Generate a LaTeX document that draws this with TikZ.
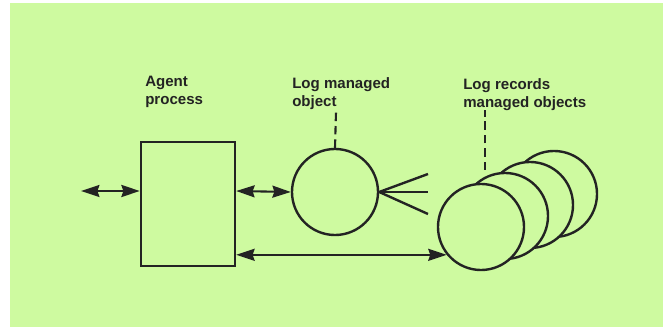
\documentclass[tikz,border=0pt]{standalone}
\usepackage{fontspec}
\setmainfont{Liberation Sans}
\usetikzlibrary{arrows.meta}

\begin{document}
\begin{tikzpicture}[x=0.025cm, y=-0.025cm,
	boxlabel/.style={anchor=north west, inner sep=0pt, align=left, font=\fontsize{10.7}{13}\selectfont\bfseries, text=inkgray},
	agentbox/.style={draw=inkgray, line width=1.7pt, minimum width=2.35cm, minimum height=3.1cm, inner sep=0pt},
	logcircle/.style={draw=inkgray, circle, line width=1.7pt, minimum size=2.15cm, inner sep=0pt, fill=bggreen},
	link/.style={draw=inkgray, line width=1.5pt, {Stealth[length=4.6mm,width=3mm,inset=0.5mm]}-{Stealth[length=4.6mm,width=3mm,inset=0.5mm]}},
	pointer/.style={draw=inkgray, line width=1.5pt, dash pattern=on 6pt off 3.5pt},
	feed/.style={draw=inkgray, line width=1.7pt}
	]
	\definecolor{bggreen}{RGB}{206, 250, 160}
	\definecolor{inkgray}{RGB}{35, 35, 35}

	% page and background
	\useasboundingbox (0,0) rectangle (663,327);
	\fill [bggreen] (10,3) rectangle (663,327);

	% agent process
	\node [agentbox] (agent) at (188,204) {};
	\node [boxlabel] (agentlabel) at (145,76) {Agent\\process};

	% log managed object
	\node [logcircle] (logobj) at (335,192) {};
	\node [boxlabel] (loglabel) at (292,77) {Log managed\\object};
	\coordinate (logtop) at (336,112);
	\draw [pointer] (logobj.north) -- (logtop);
	\coordinate (in1) at (428,174);
	\coordinate (in2) at (428,192);
	\coordinate (in3) at (428,214);
	\draw [feed] (logobj.east) -- (in1);
	\draw [feed] (logobj.east) -- (in2);
	\draw [feed] (logobj.east) -- (in3);

	% log records, back to front
	\node [logcircle] (rec4) at (554,194) {};
	\node [logcircle] (rec3) at (530,205) {};
	\node [logcircle] (rec2) at (505,216) {};
	\node [logcircle] (rec1) at (481,227) {};
	\node [boxlabel] (reclabel) at (463,78) {Log records\\managed objects};
	\coordinate (recbot) at (485,170);
	\coordinate (rectop) at (485,110);
	\draw [pointer] (recbot) -- (rectop);

	% connections
	\coordinate (ext) at (81,191);
	\draw [link] (ext) -- (ext -| agent.west);
	\draw [link] (ext -| agent.east) -- (logobj.west);
	\draw [link] (agent.east |- rec1.219) -- (rec1.219);
\end{tikzpicture}
\end{document}
